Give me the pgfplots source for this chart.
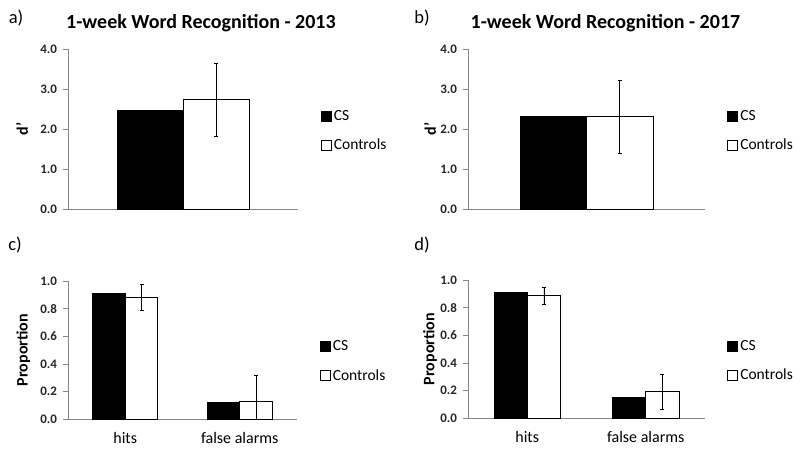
\documentclass[border=0pt]{standalone}
\usepackage{pgfplots}
\pgfplotsset{compat=1.18}
\usepackage{fontspec}
\setmainfont{Carlito}
\definecolor{axgray}{RGB}{134,134,134}
\definecolor{txt}{RGB}{38,38,38}
\pgfplotsset{
 panel/.style={
  scale only axis, anchor=south west,
  ymin=0, axis lines*=left, axis line style={axgray, line width=0.8pt, -},
  ytick style={axgray, line width=0.8pt}, tick align=outside, major tick length=5pt,
  xtick style={draw=none},
  yticklabel style={font=\fontsize{13}{15}\selectfont\bfseries, text=txt, xshift=-2.5pt, /pgf/number format/.cd, fixed, fixed zerofill, precision=1, assume math mode=true},
  xticklabel style={font=\fontsize{16}{18}\selectfont, text=black, yshift=-4.5pt},
  ylabel style={font=\fontsize{16}{18}\selectfont\bfseries, anchor=center},
  ybar, clip=true,
  legend cell align=left,
  legend image code/.code={\draw[##1] (0pt,-5pt) rectangle (10pt,5pt);},
  legend style={draw=none, fill=none, font=\fontsize{15.5}{17}\selectfont, anchor=west, row sep=13pt,
    nodes={inner xsep=2.5pt}},
  error bars/error bar style={black, line width=0.6pt},
 },
 csbar/.style={fill=black, draw=black, line width=0.6pt},
 ctbar/.style={fill=white, draw=black, line width=0.6pt},
}
\begin{document}
\begin{tikzpicture}
\path[use as bounding box] (0pt,0pt) rectangle (800pt,451pt);
% panel a
\begin{axis}[panel, at={(68pt,242pt)}, width=230pt, height=160pt,
  xmin=-0.5, xmax=0.5, ymax=4, ytick={0,1,2,3,4}, xtick=\empty, bar width=0.287,
  ylabel={d'}, ylabel style={at={(axis description cs:-0.2,0.5)}},
  legend style={at={(1.085,0.4875)}}]
\addplot[csbar, bar shift=-0.1435] coordinates {(0,2.48)};
\addplot[ctbar, bar shift=0.1435, error bars/.cd, y dir=both, y explicit] coordinates {(0,2.74) +- (0,0.91)};
\legend{CS,Controls}
\end{axis}
% panel b
\begin{axis}[panel, at={(468pt,242pt)}, width=237pt, height=160pt,
  xmin=-0.5, xmax=0.5, ymax=4, ytick={0,1,2,3,4}, xtick=\empty, bar width=0.28,
  ylabel={d'}, ylabel style={at={(axis description cs:-0.16,0.5)}},
  legend style={at={(1.08,0.4875)}}]
\addplot[csbar, bar shift=-0.14] coordinates {(0,2.33)};
\addplot[ctbar, bar shift=0.14, error bars/.cd, y dir=both, y explicit] coordinates {(0,2.31) +- (0,0.92)};
\legend{CS,Controls}
\end{axis}
% panel c
\begin{axis}[panel, at={(68pt,31.7pt)}, width=229pt, height=138.3pt,
  xmin=-0.5, xmax=1.5, ymax=1, ytick={0,0.2,0.4,0.6,0.8,1.0}, xtick={0,1}, xticklabels={hits,false alarms}, bar width=0.284,
  ylabel={Proportion}, ylabel style={at={(axis description cs:-0.195,0.5)}},
  legend style={at={(1.085,0.42)}}]
\addplot[csbar, bar shift=-0.142] coordinates {(0,0.908) (1,0.123)};
\addplot[ctbar, bar shift=0.142, error bars/.cd, y dir=both, y explicit] coordinates {(0,0.884) +- (0,0.096) (1,0.127) +- (0,0.19)};
\legend{CS,Controls}
\end{axis}
% panel d
\begin{axis}[panel, at={(468pt,32.7pt)}, width=237pt, height=138.3pt,
  xmin=-0.5, xmax=1.5, ymax=1, ytick={0,0.2,0.4,0.6,0.8,1.0}, xtick={0,1}, xticklabels={hits,false alarms}, bar width=0.28,
  ylabel={Proportion}, ylabel style={at={(axis description cs:-0.16,0.5)}},
  legend style={at={(1.08,0.414)}}]
\addplot[csbar, bar shift=-0.14] coordinates {(0,0.908) (1,0.149)};
\addplot[ctbar, bar shift=0.14, error bars/.cd, y dir=both, y explicit] coordinates {(0,0.887) +- (0,0.06) (1,0.193) +- (0,0.125)};
\legend{CS,Controls}
\end{axis}
% titles and panel letters
\node[font=\fontsize{20}{24}\selectfont\bfseries] at (201pt,428pt) {1-week Word Recognition - 2013};
\node[font=\fontsize{20}{24}\selectfont\bfseries] at (605.5pt,428pt) {1-week Word Recognition - 2017};
\node[font=\fontsize{18.5}{22}\selectfont] at (16pt,433pt) {a)};
\node[font=\fontsize{18.5}{22}\selectfont] at (422pt,433pt) {b)};
\node[font=\fontsize{18.5}{22}\selectfont] at (15pt,206pt) {c)};
\node[font=\fontsize{18.5}{22}\selectfont] at (422pt,206pt) {d)};
\end{tikzpicture}
\end{document}
